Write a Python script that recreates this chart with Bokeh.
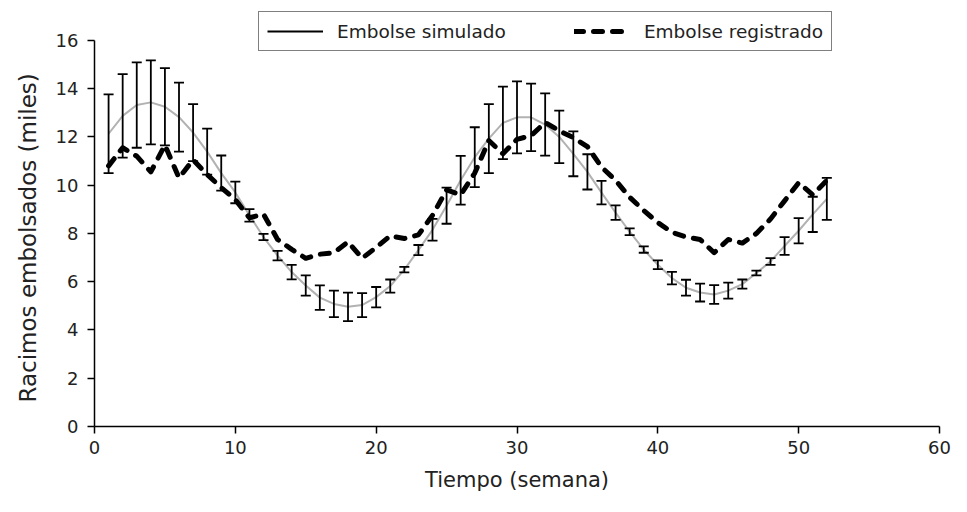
from bokeh.plotting import figure
from bokeh.models import Range1d, FixedTicker, Legend, LegendItem, Title
from bokeh.embed import file_html
from bokeh.resources import INLINE

# ---- data ----
weeks = list(range(1, 53))
sim_mean = [12.13, 12.87, 13.32, 13.43, 13.25, 12.82, 12.18, 11.39, 10.50, 9.70,
            8.75, 7.85, 7.08, 6.40, 5.84, 5.34, 5.08, 4.96, 5.03, 5.36,
            5.82, 6.50, 7.31, 8.15, 9.15, 10.20, 11.16, 11.93, 12.58, 12.81,
            12.81, 12.51, 12.00, 11.30, 10.55, 9.69, 8.86, 8.07, 7.33, 6.70,
            6.15, 5.75, 5.55, 5.47, 5.63, 5.90, 6.36, 6.84, 7.48, 8.11,
            8.79, 9.43]
sim_err = [1.63, 1.73, 1.77, 1.74, 1.60, 1.43, 1.18, 0.95, 0.73, 0.45,
           0.26, 0.13, 0.20, 0.30, 0.42, 0.51, 0.55, 0.59, 0.50, 0.42,
           0.27, 0.11, 0.21, 0.45, 0.75, 1.01, 1.24, 1.43, 1.50, 1.49,
           1.40, 1.29, 1.09, 0.93, 0.73, 0.49, 0.30, 0.14, 0.13, 0.18,
           0.26, 0.33, 0.37, 0.39, 0.33, 0.19, 0.10, 0.14, 0.37, 0.52,
           0.73, 0.87]
recorded = [10.80, 11.55, 11.20, 10.55, 11.66, 10.30, 11.05, 10.44, 9.90, 9.40,
            8.65, 8.80, 7.75, 7.34, 6.97, 7.14, 7.20, 7.65, 6.97, 7.42,
            7.90, 7.79, 7.94, 8.75, 9.80, 9.60, 10.50, 11.85, 11.30, 11.90,
            12.05, 12.60, 12.25, 11.97, 11.60, 10.75, 10.20, 9.50, 8.95, 8.45,
            8.05, 7.85, 7.75, 7.20, 7.75, 7.60, 8.00, 8.60, 9.35, 10.10,
            9.60, 10.20]
x_ticks = [0, 10, 20, 30, 40, 50, 60]
y_ticks = [0, 2, 4, 6, 8, 10, 12, 14, 16]
label_sim = "Embolse simulado"
label_rec = "Embolse registrado"
x_title = "Tiempo (semana)"
y_title = "Racimos embolsados (miles)"

lower = [m - e for m, e in zip(sim_mean, sim_err)]
upper = [m + e for m, e in zip(sim_mean, sim_err)]

FONT = "DejaVu Sans"

# frame extends a little above 16 so the legend can sit there; axis drawn 0..16
p = figure(width=951, height=496, output_backend="svg", toolbar_location=None,
           x_range=Range1d(0, 60), y_range=Range1d(0, 17.32),
           min_border_left=94, min_border_right=12, min_border_top=8,
           min_border_bottom=70)
p.xgrid.visible = False
p.ygrid.visible = False
p.outline_line_color = None
p.background_fill_color = "white"

# simulated curve (grey)
p.line(weeks, sim_mean, line_color="#b2b2b2", line_width=2)
# error bars
bars = p.segment(x0=weeks, y0=lower, x1=weeks, y1=upper,
                 line_color="black", line_width=1.8)
p.scatter(weeks + weeks, lower + upper, marker="dash", size=10,
          line_color="black", line_width=1.8)
# recorded (dashed, thick)
rec = p.line(weeks, recorded, line_color="black", line_width=5,
             line_dash="9 10", line_cap="round", line_join="round")

for ax in (p.xaxis[0], p.yaxis[0]):
    ax.axis_line_color = "black"
    ax.axis_line_width = 1.5
    ax.major_tick_line_color = "black"
    ax.major_tick_line_width = 1.5
    ax.major_tick_in = 0
    ax.major_tick_out = 7
    ax.minor_tick_line_color = None
    ax.major_label_text_font = FONT
    ax.major_label_text_font_size = "18px"
    ax.major_label_text_color = "#222222"
    ax.axis_label_text_font = FONT
    ax.axis_label_text_font_style = "normal"
    ax.axis_label_text_color = "#222222"

p.xaxis[0].ticker = FixedTicker(ticks=x_ticks)
p.yaxis[0].ticker = FixedTicker(ticks=y_ticks)
p.xaxis[0].bounds = (0, 60)
p.yaxis[0].bounds = (0, 16)
p.xaxis[0].axis_label = x_title
p.xaxis[0].axis_label_text_font_size = "21px"
p.xaxis[0].major_label_standoff = 7
p.xaxis[0].axis_label_standoff = 11
p.yaxis[0].major_label_standoff = 9

# y title as a side title so it can be centred on the 0..16 axis
ytitle = Title(text=y_title, align="left", offset=24, standoff=24,
               text_font=FONT, text_font_size="23px", text_font_style="normal",
               text_color="#222222")
p.add_layout(ytitle, "left")

legend = Legend(items=[LegendItem(label=label_sim, renderers=[bars]),
                       LegendItem(label=label_rec, renderers=[rec])],
                location=(164, 375), orientation="horizontal",
                border_line_color="black", border_line_width=1,
                background_fill_color="white", background_fill_alpha=1,
                padding=8, spacing=68, margin=0,
                glyph_width=56, glyph_height=22, label_standoff=14,
                label_text_font=FONT, label_text_font_size="18.5px",
                label_text_color="#222222")
p.add_layout(legend)

open("out.html", "w").write(file_html(p, INLINE))
